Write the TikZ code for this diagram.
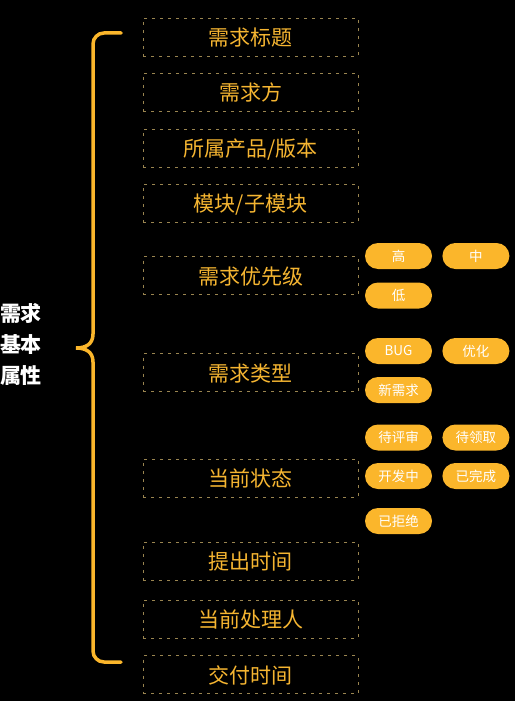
\documentclass[tikz,border=0pt]{standalone}
\usepackage{fontspec}
\setmainfont{Noto Sans CJK SC}
\usepackage{tikz}
\usetikzlibrary{positioning}
\definecolor{gold}{HTML}{FBB62B}
\definecolor{boxline}{HTML}{9A8550}
\definecolor{boxtext}{HTML}{F5B531}
\tikzset{
  attr/.style={draw=boxline,line width=1pt,dash pattern=on 3pt off 5pt,minimum width=215pt,minimum height=38pt,inner sep=0pt,text height=19pt,text depth=2pt,text=boxtext,font=\fontsize{21}{21}\selectfont},
  tag/.style={fill=gold,rounded corners=13pt,minimum width=67pt,minimum height=26pt,inner sep=0pt,text=white,font=\fontsize{13.5}{13.5}\selectfont},
  brace/.style={draw=gold,line width=3.5pt,line cap=round}
}
\begin{document}
\begin{tikzpicture}[x=1pt,y=-1pt]
  \fill[black] (0,0) rectangle (515,701);
  \useasboundingbox (0,0) rectangle (515,701);
  \def\bx{250.5}
  \node[attr] (title) at (\bx,37.5) {需求标题};
  \node[attr] (party) at (\bx,92) {需求方};
  \node[attr] (product) at (\bx,148) {所属产品/版本};
  \node[attr] (module) at (\bx,203) {模块/子模块};
  \node[attr] (priority) at (\bx,275.5) {需求优先级};
  \node[attr] (type) at (\bx,372.5) {需求类型};
  \node[attr] (state) at (\bx,478) {当前状态};
  \node[attr] (raised) at (\bx,561) {提出时间};
  \node[attr] (owner) at (\bx,619) {当前处理人};
  \node[attr] (delivery) at (\bx,674.5) {交付时间};
  % tags
  \node[tag] (high) at (398.5,256) {高};
  \node[tag, right=10pt of high] (mid) {中};
  \node[tag] (low) at (398.5,295.5) {低};
  \node[tag] (bug) at (398.5,351) {BUG};
  \node[tag, right=10pt of bug] (optim) {优化};
  \node[tag] (newreq) at (398.5,390) {新需求};
  \node[tag] (review) at (398.5,437.5) {待评审};
  \node[tag, right=10pt of review] (claim) {待领取};
  \node[tag] (dev) at (398.5,476) {开发中};
  \node[tag, right=10pt of dev] (done) {已完成};
  \node[tag] (reject) at (398.5,521) {已拒绝};
  % brace
  \coordinate (bt) at (121,33);
  \coordinate (bb) at (121,662);
  \coordinate (tip) at (76,348);
  \draw[brace] (bt) -- (104,33) arc[start angle=90,end angle=180,radius=11pt]
    -- (93,334) .. controls (93,344) and (86,348) .. (tip)
    .. controls (86,348) and (93,352) .. (93,362)
    -- (93,651) arc[start angle=180,end angle=270,radius=11pt] -- (bb);
  \node[text=white,align=center,font=\fontsize{21}{31}\bfseries\selectfont] (root) at (21,344) {需求\\基本\\属性};
\end{tikzpicture}
\end{document}
